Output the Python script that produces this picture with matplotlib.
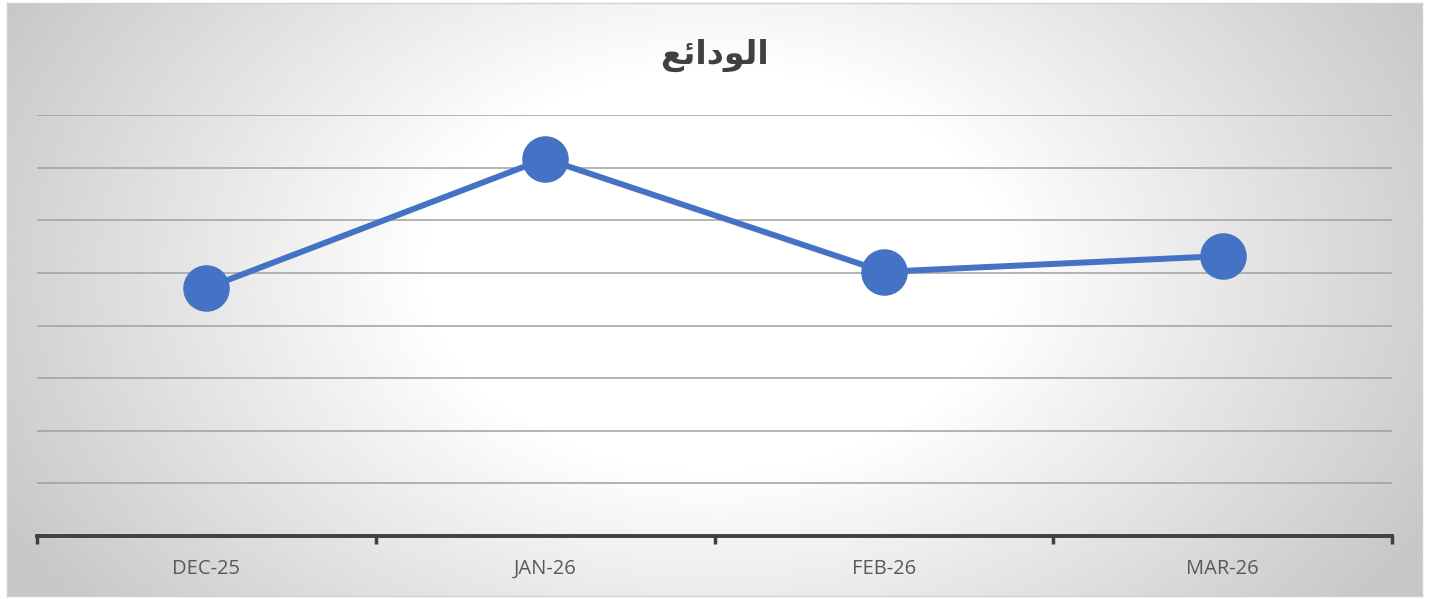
import numpy as np
import matplotlib.pyplot as plt

# data
months = ["DEC-25", "JAN-26", "FEB-26", "MAR-26"]
deposits = [4.71, 7.17, 5.02, 5.32]
# title "الودائع" written with Arabic presentation forms in visual order
title = "\ufeca\ufe8b\ufe8d\ufea9\ufeee\ufedf\ufe8d"

W, H = 1431, 599
fig = plt.figure(figsize=(W / 100, H / 100), dpi=100)

# chart area background: radial grey gradient with a light border
bg = fig.add_axes([7 / W, 3 / H, 1415 / W, 593 / H])
v, u = np.mgrid[0:1:300j, 0:1:700j]
r = np.sqrt((u - 0.5) ** 2 + ((v - 0.45) * 0.6) ** 2)
shade = 1.0 - np.clip((r - 0.2) / 0.37, 0, 1) * 0.22
bg.imshow(shade, cmap="gray", vmin=0, vmax=1, aspect="auto",
          extent=[0, 1, 0, 1], origin="upper", interpolation="bilinear")
bg.set_xticks([])
bg.set_yticks([])
for s in bg.spines.values():
    s.set_color("#d0d0d0")
    s.set_linewidth(1.0)

# plot area
ax = fig.add_axes([37 / W, 63 / H, 1355 / W, 421 / H])
ax.set_facecolor("none")
x = np.arange(len(months))
ax.plot(x, deposits, color="#4472C4", linewidth=4.3, marker="o",
        markersize=32.5, markerfacecolor="#4472C4", markeredgecolor="#4472C4",
        clip_on=False, zorder=3)

ax.set_xlim(-0.5, len(months) - 0.5)
ax.set_ylim(0, 8)
ax.set_yticks(np.arange(1, 9))
ax.yaxis.grid(True, color="#a0a0a0", linewidth=1.1)
ax.set_axisbelow(True)
ax.tick_params(axis="y", left=False, labelleft=False)

ax.set_xticks(x)
ax.set_xticklabels(months, fontfamily="Open Sans", fontsize=14.5, color="#595959",
                   va="baseline")
ax.tick_params(axis="x", which="major", length=0, pad=27)
ax.set_xticks(np.arange(-0.5, len(months)), minor=True)
ax.tick_params(axis="x", which="minor", length=6, width=2.5, color="#404040")

for side in ["top", "left", "right"]:
    ax.spines[side].set_visible(False)
ax.spines["bottom"].set_color("#404040")
ax.spines["bottom"].set_linewidth(2.8)

fig.text(715 / W, 1 - 55 / H, title, ha="center", va="center",
         fontfamily="DejaVu Sans", fontweight="bold", fontsize=24, color="#404040")

fig.savefig("out.png", dpi=100)
